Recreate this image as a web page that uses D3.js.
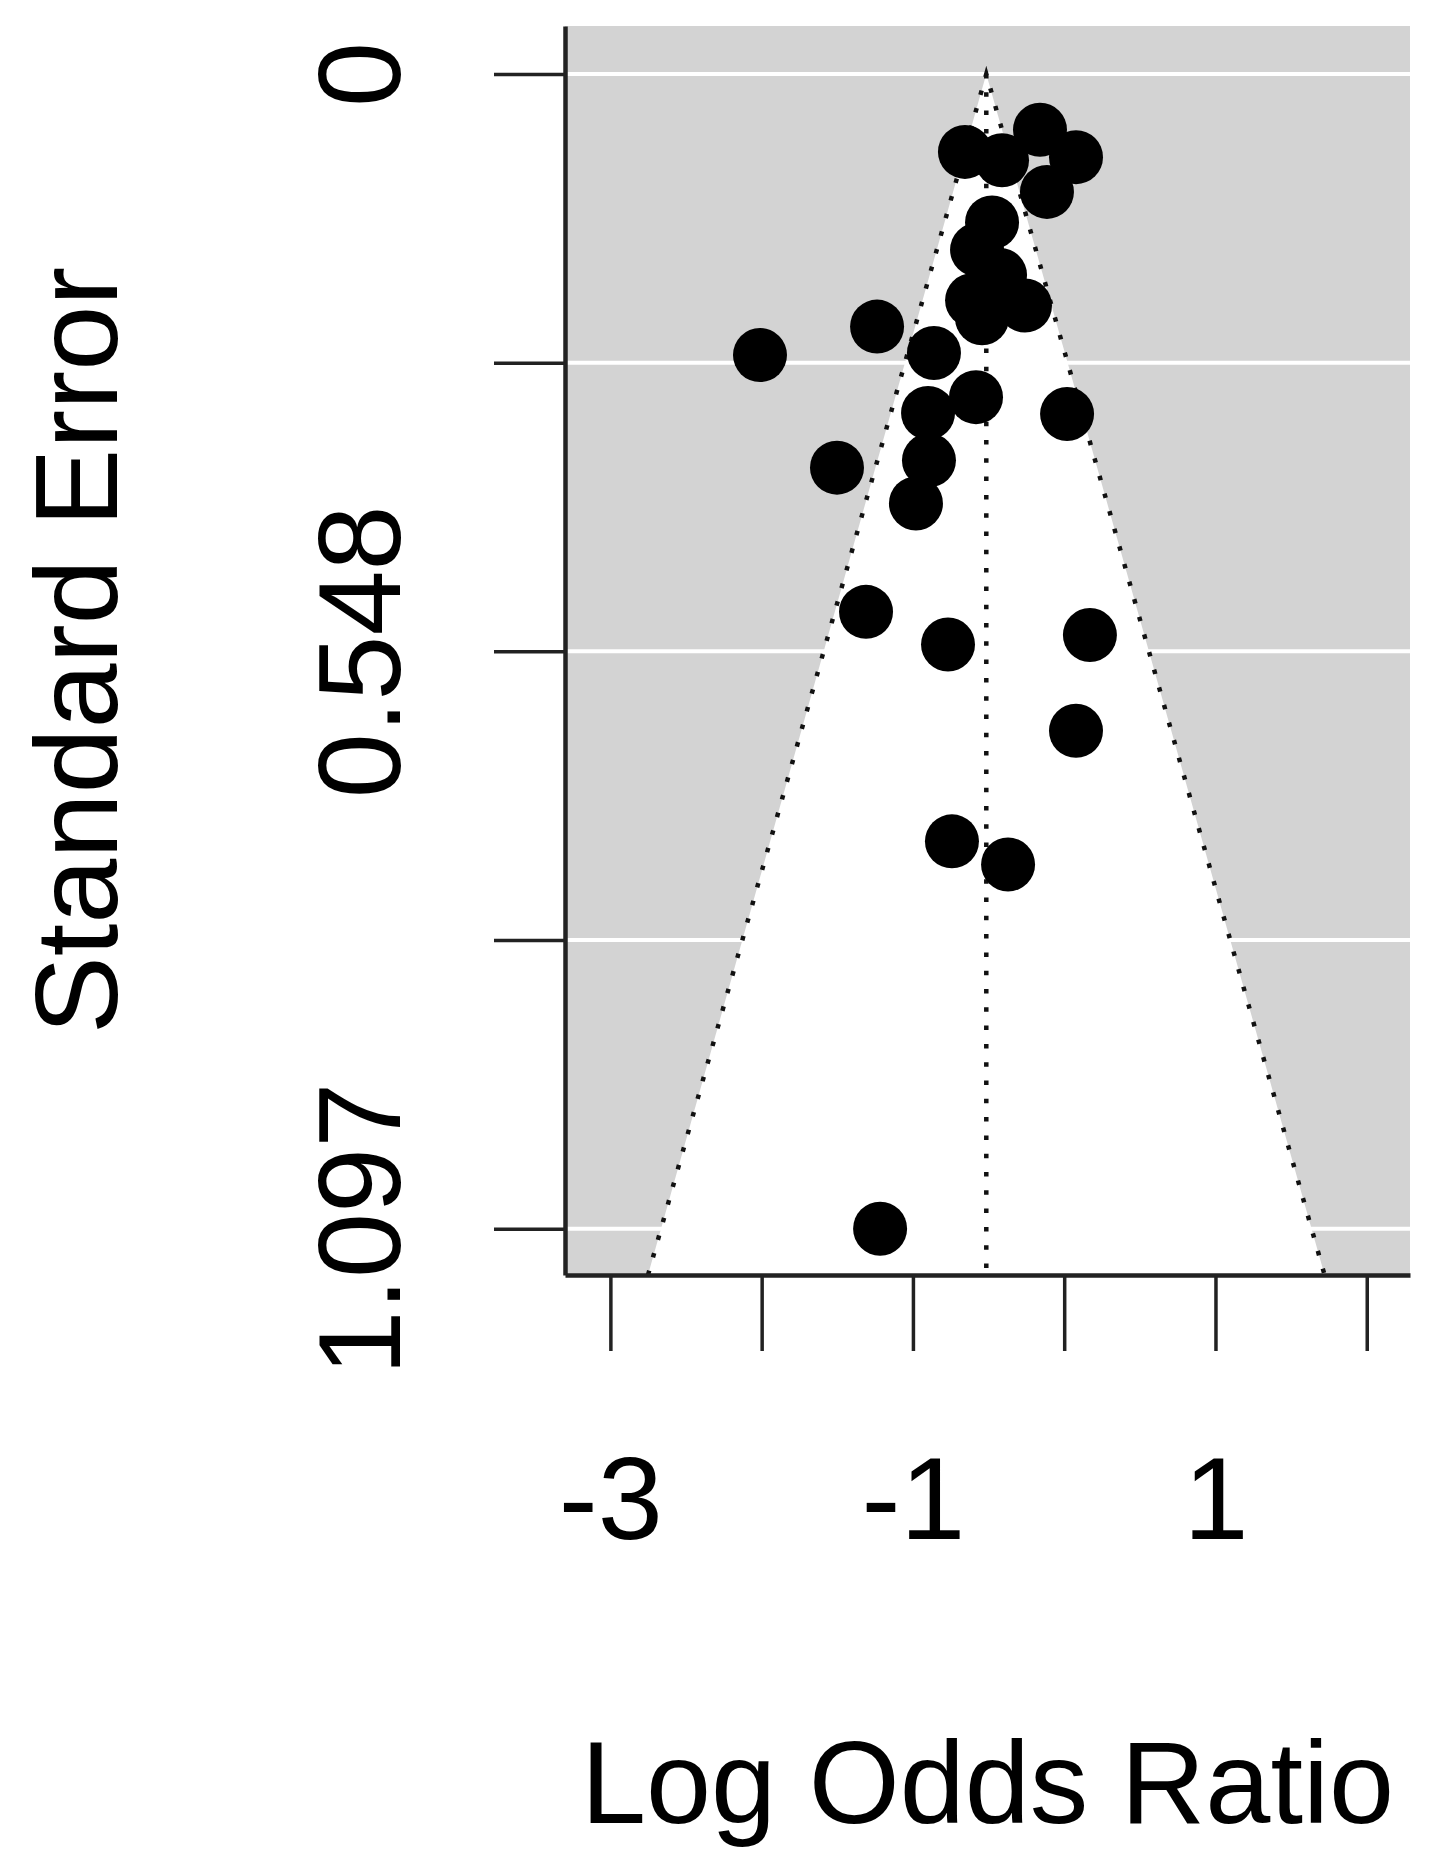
<!DOCTYPE html>
<meta charset="utf-8">
<script src="https://d3js.org/d3.v7.min.js"></script>
<style>
  body { margin: 0; background: #fff; }
  text { font-family: "Liberation Sans", Arial, sans-serif; fill: #000; }
</style>
<body>
<script>

// study estimates (log odds ratio) and their standard errors
var logOR = [-0.656, -0.160, 0.078, -0.411, -0.114, -0.477, -0.576, -0.424, -0.609, -0.543, -0.259,
             -0.861, -0.583, -0.900, -0.894, -0.980,
             -2.011, -1.237, -1.502, 0.019, -1.310, -0.768, 0.170, 0.078, -0.742, -0.371, -1.217];
var stdErr = [0.074, 0.053, 0.079, 0.082, 0.112, 0.141, 0.167, 0.191, 0.215, 0.232, 0.220,
              0.265, 0.307, 0.322, 0.367, 0.408,
              0.267, 0.240, 0.374, 0.323, 0.511, 0.542, 0.533, 0.624, 0.729, 0.751, 1.097];

// pooled estimate (centre line of the funnel)
var pooled = -0.515;

var xTicks = [-3, -2, -1, 0, 1, 2];
var xTickLabels = ["-3", "", "-1", "", "1", ""];
var yTicks = [0, 0.27425, 0.5485, 0.82275, 1.097];
var yTickLabels = ["0", "", "0.548", "", "1.097"];

var W = 1436, H = 1873;
var plotL = 565, plotR = 1410, plotT = 26, plotB = 1275;
var fontSize = "117px";

var svg = d3.select("body").append("svg")
    .attr("width", W)
    .attr("height", H);

svg.append("rect").attr("width", W).attr("height", H).attr("fill", "#fff");

var x = d3.scaleLinear().domain([-3.30, 2.286]).range([plotL, plotR]);
var y = d3.scaleLinear().domain([-0.0456, 1.141]).range([plotT, plotB]);
var seMax = y.domain()[1];

// gray plotting region
svg.append("rect")
    .attr("x", plotL).attr("y", plotT)
    .attr("width", plotR - plotL).attr("height", plotB - plotT)
    .attr("fill", "#d3d3d3");

// white horizontal reference lines at the y ticks
svg.selectAll(".hgrid")
  .data(yTicks)
  .enter().append("line")
    .attr("class", "hgrid")
    .attr("x1", plotL).attr("x2", plotR)
    .attr("y1", function(d) { return y(d); })
    .attr("y2", function(d) { return y(d); })
    .attr("stroke", "#fff")
    .attr("stroke-width", 4);

// pseudo confidence region (white funnel)
var funnel = [[pooled - 1.96 * seMax, seMax], [pooled, 0], [pooled + 1.96 * seMax, seMax]];
svg.append("polygon")
    .attr("points", funnel.map(function(p) { return x(p[0]) + "," + y(p[1]); }).join(" "))
    .attr("fill", "#fff");

// dotted lines: funnel edges and centre
var dotted = [
  [[pooled - 1.96 * seMax, seMax], [pooled, 0], [pooled + 1.96 * seMax, seMax]],
  [[pooled, 0], [pooled, seMax]]
];
var line = d3.line().x(function(d) { return x(d[0]); }).y(function(d) { return y(d[1]); });
svg.selectAll(".dotline")
  .data(dotted)
  .enter().append("path")
    .attr("class", "dotline")
    .attr("d", line)
    .attr("fill", "none")
    .attr("stroke", "#111")
    .attr("stroke-width", 4.5)
    .attr("stroke-dasharray", "4.5,13.8");

// studies
var pts = logOR.map(function(v, i) { return { est: v, se: stdErr[i] }; });
svg.selectAll(".pt")
  .data(pts)
  .enter().append("circle")
    .attr("class", "pt")
    .attr("cx", function(d) { return x(d.est); })
    .attr("cy", function(d) { return y(d.se); })
    .attr("r", 27)
    .attr("fill", "#000");

// axes
var yAxis = d3.axisLeft(y)
    .tickValues(yTicks)
    .tickSize(71)
    .tickSizeOuter(0)
    .tickFormat(function(d, i) { return yTickLabels[i]; });

var gy = svg.append("g")
    .attr("transform", "translate(" + plotL + ",0)")
    .call(yAxis);
gy.selectAll(".tick line").attr("stroke", "#222").attr("stroke-width", 3.5);
gy.select(".domain").attr("stroke", "#222").attr("stroke-width", 4.5);
gy.selectAll(".tick text")
    .attr("transform", "rotate(-90)")
    .attr("x", 0)
    .attr("y", -165)
    .attr("dy", 0)
    .attr("text-anchor", "middle")
    .style("font-size", fontSize)
    .style("font-family", "'Liberation Sans', Arial, sans-serif")
    .attr("fill", "#000");

var xAxis = d3.axisBottom(x)
    .tickValues(xTicks)
    .tickSize(76)
    .tickSizeOuter(0)
    .tickFormat(function(d, i) { return xTickLabels[i]; });

var gx = svg.append("g")
    .attr("transform", "translate(0," + plotB + ")")
    .call(xAxis);
gx.selectAll(".tick line").attr("stroke", "#222").attr("stroke-width", 3.5);
gx.select(".domain").attr("stroke", "#222").attr("stroke-width", 4.5);
gx.selectAll(".tick text")
    .attr("y", 264)
    .attr("dy", 0)
    .style("font-size", fontSize)
    .style("font-family", "'Liberation Sans', Arial, sans-serif")
    .attr("fill", "#000");

// axis titles
svg.append("text")
    .attr("x", (plotL + plotR) / 2)
    .attr("y", 1823)
    .attr("text-anchor", "middle")
    .style("font-size", fontSize)
    .text("Log Odds Ratio");

svg.append("text")
    .attr("transform", "translate(117," + ((plotT + plotB) / 2) + ") rotate(-90)")
    .attr("text-anchor", "middle")
    .style("font-size", fontSize)
    .text("Standard Error");

</script>
</body>
